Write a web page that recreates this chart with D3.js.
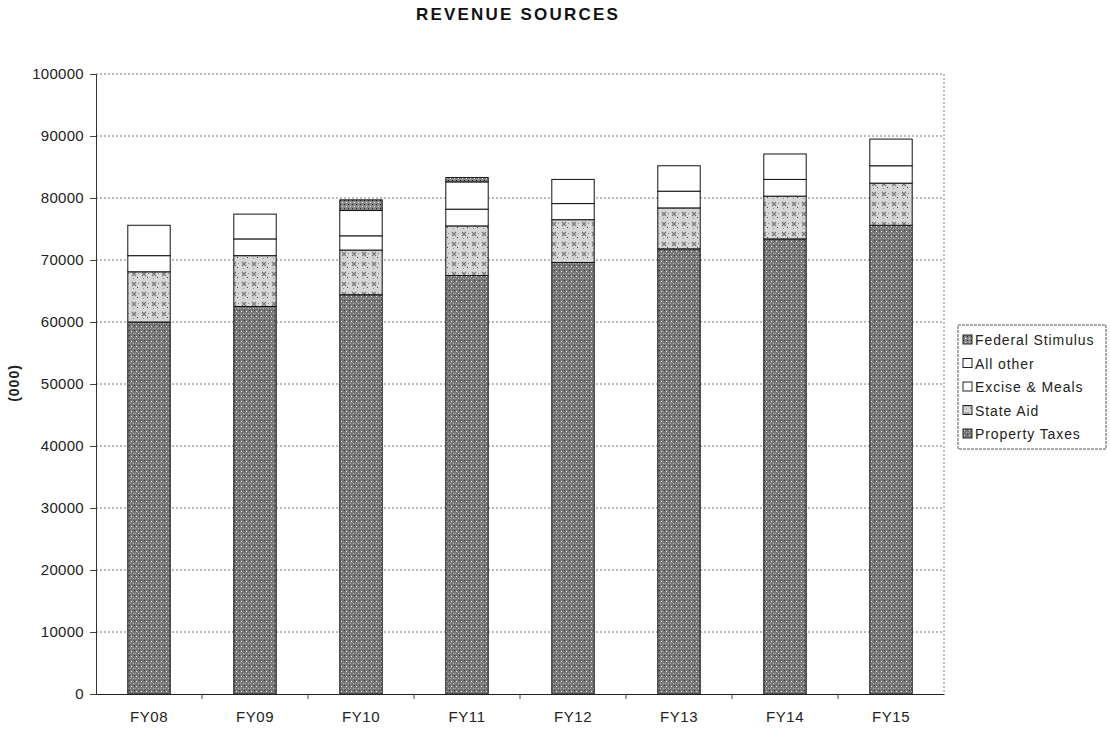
<!DOCTYPE html>
<html>
<head>
<meta charset="utf-8">
<script src="https://cdn.jsdelivr.net/npm/d3@7"></script>
<style>
  body { margin: 0; background: #fff; }
  svg { display: block; font-family: "Liberation Sans", Arial, sans-serif; }
</style>
</head>
<body>
<svg id="chart" width="1110" height="729"></svg>
<script>
const categories = ["FY08", "FY09", "FY10", "FY11", "FY12", "FY13", "FY14", "FY15"];
const propertyTaxes   = [60000, 62500, 64400, 67500, 69600, 71800, 73400, 75600];
const stateAid        = [8100, 8200, 7200, 8000, 6900, 6600, 6900, 6800];
const exciseMeals     = [2600, 2700, 2300, 2700, 2600, 2700, 2700, 2800];
const allOther        = [4900, 4000, 4100, 4400, 3900, 4100, 4100, 4300];
const federalStimulus = [0, 0, 1700, 700, 0, 0, 0, 0];
const seriesNames = ["Property Taxes", "State Aid", "Excise & Meals", "All other", "Federal Stimulus"];
const seriesValues = [propertyTaxes, stateAid, exciseMeals, allOther, federalStimulus];
const yTicks = [0, 10000, 20000, 30000, 40000, 50000, 60000, 70000, 80000, 90000, 100000];

(function () {
const svg = d3.select("#chart");
const mLeft = 96, mRight = 944, mTop = 74, mBottom = 694;

// patterns
const defs = svg.append("defs");
const pProp = defs.append("pattern").attr("id", "pProp").attr("patternUnits", "userSpaceOnUse").attr("width", 5).attr("height", 5);
pProp.append("rect").attr("width", 5).attr("height", 5).attr("fill", "#767676");
pProp.append("rect").attr("x", 1).attr("y", 1).attr("width", 1).attr("height", 1).attr("fill", "#f2f2f2");
pProp.append("rect").attr("x", 3).attr("y", 3).attr("width", 1).attr("height", 1).attr("fill", "#b8b8b8");
pProp.append("rect").attr("x", 4).attr("y", 0).attr("width", 1).attr("height", 1).attr("fill", "#3a3a3a");
pProp.append("rect").attr("x", 0).attr("y", 3).attr("width", 1).attr("height", 1).attr("fill", "#a0a0a0");

const pState = defs.append("pattern").attr("id", "pState").attr("patternUnits", "userSpaceOnUse").attr("width", 10).attr("height", 10);
pState.append("rect").attr("width", 10).attr("height", 10).attr("fill", "#d6d6d6");
pState.append("path").attr("d", "M2,2L6,6M6,2L2,6").attr("stroke", "#7a7a7a").attr("stroke-width", 1.3);
pState.append("rect").attr("x", 7).attr("y", 7).attr("width", 1).attr("height", 1).attr("fill", "#444");
pState.append("rect").attr("x", 8).attr("y", 3).attr("width", 1).attr("height", 1).attr("fill", "#888");
pState.append("rect").attr("x", 3).attr("y", 8).attr("width", 1).attr("height", 1).attr("fill", "#888");
pState.append("rect").attr("x", 0).attr("y", 5).attr("width", 1).attr("height", 1).attr("fill", "#f6f6f6");

const pFed = defs.append("pattern").attr("id", "pFed").attr("patternUnits", "userSpaceOnUse").attr("width", 4).attr("height", 4);
pFed.append("rect").attr("width", 4).attr("height", 4).attr("fill", "#888");
pFed.append("rect").attr("x", 0).attr("y", 0).attr("width", 1).attr("height", 1).attr("fill", "#222");
pFed.append("rect").attr("x", 2).attr("y", 2).attr("width", 1).attr("height", 1).attr("fill", "#eee");

const fills = {
  "Property Taxes": "url(#pProp)",
  "State Aid": "url(#pState)",
  "Excise & Meals": "#ffffff",
  "All other": "#ffffff",
  "Federal Stimulus": "url(#pFed)"
};

const x = d3.scaleBand().domain(categories).range([mLeft, mRight]).paddingInner(0.6).paddingOuter(0.3);
const y = d3.scaleLinear().domain([0, 100000]).range([mBottom, mTop]);

// gridlines
svg.append("g").selectAll("line").data(yTicks.filter(t => t > 0)).join("line")
  .attr("x1", mLeft).attr("x2", mRight)
  .attr("y1", d => y(d)).attr("y2", d => y(d))
  .attr("stroke", "#777").attr("stroke-width", 1).attr("stroke-dasharray", "2,2");
// right border
svg.append("line").attr("x1", mRight).attr("x2", mRight).attr("y1", mTop).attr("y2", mBottom)
  .attr("stroke", "#888").attr("stroke-dasharray", "2,2");

// data table
const table = categories.map((c, i) => {
  const o = { cat: c };
  seriesNames.forEach((s, j) => o[s] = seriesValues[j][i]);
  return o;
});
const stacked = d3.stack().keys(seriesNames)(table);

svg.append("g").selectAll("g").data(stacked).join("g")
  .attr("fill", d => fills[d.key])
  .selectAll("rect").data(d => d.filter(p => p[1] - p[0] > 0)).join("rect")
  .attr("x", d => x(d.data.cat))
  .attr("width", x.bandwidth())
  .attr("y", d => y(d[1]))
  .attr("height", d => y(d[0]) - y(d[1]))
  .attr("stroke", "#111").attr("stroke-width", 1);

// y axis
const yAxis = svg.append("g").attr("transform", `translate(${mLeft},0)`)
  .call(d3.axisLeft(y).tickValues(yTicks).tickSize(6).tickPadding(6).tickFormat(d3.format("d")));
yAxis.select(".domain").attr("stroke", "#333");
yAxis.selectAll(".tick line").attr("stroke", "#444");
yAxis.selectAll("text").attr("font-size", 15).attr("fill", "#222").attr("font-family", "Liberation Sans, Arial, sans-serif").attr("letter-spacing", 0.3);

// x axis
const xAxis = svg.append("g").attr("transform", `translate(0,${mBottom})`)
  .call(d3.axisBottom(x).tickSize(0).tickPadding(17));
xAxis.select(".domain").attr("stroke", "#222");
xAxis.selectAll("text").attr("font-size", 15).attr("fill", "#222").attr("font-family", "Liberation Sans, Arial, sans-serif").attr("letter-spacing", 0.6);
// tick marks between categories
const step = x.step();
svg.append("g").selectAll("line").data(categories.slice(1)).join("line")
  .attr("x1", d => x(d) - (step - x.bandwidth()) / 2).attr("x2", d => x(d) - (step - x.bandwidth()) / 2)
  .attr("y1", mBottom).attr("y2", mBottom + 5).attr("stroke", "#444");

// title
svg.append("text").attr("x", 518).attr("y", 20).attr("text-anchor", "middle")
  .attr("font-size", 17).attr("font-weight", "bold").attr("letter-spacing", 2.2)
  .attr("fill", "#111").text("REVENUE SOURCES");

// y label
svg.append("text").attr("transform", "translate(19,383) rotate(-90)").attr("text-anchor", "middle")
  .attr("font-size", 14).attr("font-weight", "bold").attr("letter-spacing", 1)
  .attr("fill", "#222").text("(000)");

// legend
const legendOrder = seriesNames.slice().reverse();
const lg = svg.append("g");
lg.append("rect").attr("x", 958).attr("y", 325).attr("width", 148).attr("height", 124)
  .attr("fill", "#fff").attr("stroke", "#555").attr("stroke-dasharray", "3,1");
const items = lg.selectAll("g.item").data(legendOrder).join("g").attr("class", "item")
  .attr("transform", (d, i) => `translate(963,${340 + i * 23.5})`);
items.append("rect").attr("x", 0).attr("y", -5).attr("width", 9).attr("height", 9)
  .attr("fill", d => fills[d]).attr("stroke", "#222").attr("stroke-width", 1);
items.append("text").attr("x", 12).attr("y", 5).attr("font-size", 14).attr("letter-spacing", 0.9)
  .attr("fill", "#222").text(d => d);
})();
</script>
</body>
</html>
